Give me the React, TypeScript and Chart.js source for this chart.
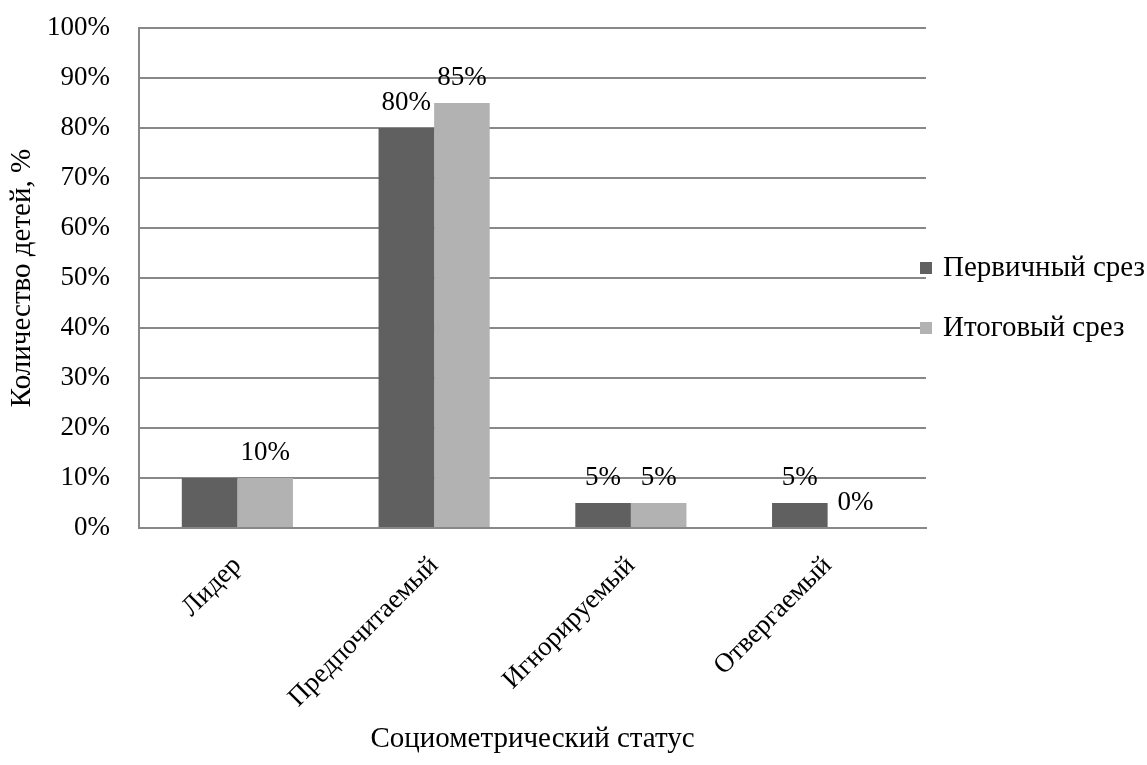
import React, { useEffect, useRef } from "react";
import { Chart, registerables } from "chart.js";

Chart.register(...registerables);

const categories = ["Лидер", "Предпочитаемый", "Игнорируемый", "Отвергаемый"];
const seriesNames = ["Первичный срез", "Итоговый срез"];
const primaryValues = [10, 80, 5, 5];
const finalValues = [10, 85, 5, 0];
const primaryShowLabel = [false, true, true, true];
const finalShowLabel = [true, true, true, true];
const colors = ["#606060", "#b2b2b2"];
const yTicks = [0, 10, 20, 30, 40, 50, 60, 70, 80, 90, 100];
const xTitle = "Социометрический статус";
const yTitle = "Количество детей, %";

const FONT = "'Liberation Serif', 'Times New Roman', serif";
const TICK_SIZE = 27;
const TITLE_SIZE = 29;

export default function App() {
  const ref = useRef<HTMLCanvasElement | null>(null);

  useEffect(() => {
    document.body.style.margin = "0";
    const canvas = ref.current;
    if (!canvas) return;

    const labelPlugin = {
      id: "valueLabels",
      afterDatasetsDraw(chart: any) {
        const ctx = chart.ctx;
        ctx.save();
        ctx.font = `${TICK_SIZE}px ${FONT}`;
        ctx.fillStyle = "#000";
        ctx.textAlign = "center";
        ctx.textBaseline = "middle";
        const shows = [primaryShowLabel, finalShowLabel];
        chart.data.datasets.forEach((ds: any, di: number) => {
          const meta = chart.getDatasetMeta(di);
          meta.data.forEach((bar: any, i: number) => {
            if (!shows[di][i]) return;
            ctx.fillText(`${ds.data[i]}%`, bar.x, bar.y - 25);
          });
        });
        ctx.restore();
      },
    };

    const titlesPlugin = {
      id: "titlesLegend",
      afterDraw(chart: any) {
        const ctx = chart.ctx;
        const area = chart.chartArea;
        ctx.save();
        ctx.font = `${TITLE_SIZE}px ${FONT}`;
        ctx.fillStyle = "#000";
        ctx.save();
        ctx.translate(22, (area.top + area.bottom) / 2);
        ctx.rotate(-Math.PI / 2);
        ctx.textAlign = "center";
        ctx.textBaseline = "middle";
        ctx.fillText(yTitle, 0, 0);
        ctx.restore();
        ctx.textAlign = "center";
        ctx.textBaseline = "middle";
        ctx.fillText(xTitle, (area.left + area.right) / 2, 739);
        ctx.textAlign = "left";
        const ly = [268, 328];
        seriesNames.forEach((name, i) => {
          ctx.fillStyle = colors[i];
          ctx.fillRect(920, ly[i] - 6, 12, 12);
          ctx.fillStyle = "#000";
          ctx.fillText(name, 943, ly[i]);
        });
        ctx.restore();
      },
    };

    const chart = new Chart(canvas, {
      type: "bar",
      data: {
        labels: categories,
        datasets: [
          { label: seriesNames[0], data: primaryValues, backgroundColor: colors[0], barPercentage: 1, categoryPercentage: 0.565 },
          { label: seriesNames[1], data: finalValues, backgroundColor: colors[1], barPercentage: 1, categoryPercentage: 0.565 },
        ],
      },
      options: {
        animation: false,
        responsive: false,
        layout: { padding: { left: 0, right: 221, top: 28, bottom: 0 } },
        plugins: {
          legend: { display: false },
          tooltip: { enabled: false },
        },
        scales: {
          x: {
            afterFit(axis: any) {
              axis.height = 237;
              axis.paddingLeft = 0;
              axis.paddingRight = 0;
            },
            grid: { display: false, drawTicks: false },
            border: { display: true, color: "#888", width: 2 },
            ticks: {
              color: "#000",
              font: { family: FONT, size: TICK_SIZE },
              maxRotation: 45,
              minRotation: 45,
              padding: 22,
            },
          },
          y: {
            min: 0,
            max: 100,
            afterFit(axis: any) {
              axis.width = 139;
              axis.paddingTop = 0;
              axis.paddingBottom = 0;
            },
            afterBuildTicks(axis: any) {
              axis.ticks = yTicks.map((v) => ({ value: v }));
            },
            grid: { color: "#888", lineWidth: 2, drawTicks: false },
            border: { display: true, color: "#888", width: 2 },
            ticks: {
              color: "#000",
              font: { family: FONT, size: TICK_SIZE },
              padding: 29,
              callback: (v: any) => `${v}%`,
            },
          },
        },
      },
      plugins: [labelPlugin, titlesPlugin],
    });
    return () => chart.destroy();
  }, []);

  return <canvas ref={ref} width={1147} height={765} style={{ display: "block" }} />;
}
